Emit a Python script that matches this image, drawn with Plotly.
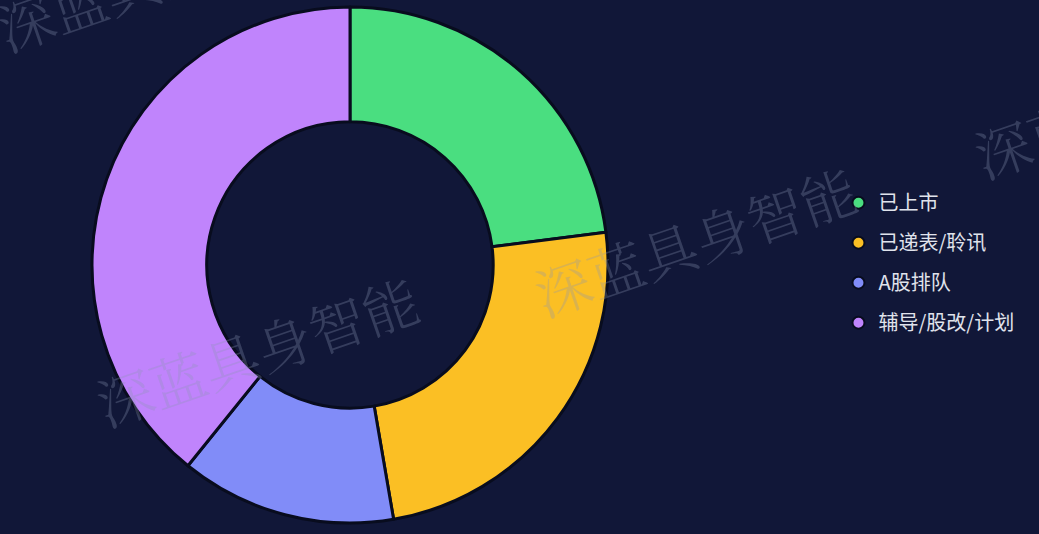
import plotly.graph_objects as go

# Data
labels = ['已上市', '已递表/聆讯', 'A股排队', '辅导/股改/计划']
values = [17, 18, 10, 29]
colors = ['#4ade80', '#fbbf24', '#818cf8', '#c084fc']

bg = '#111738'
watermark = '深蓝具身智能'

fig = go.Figure()

fig.add_trace(go.Pie(
    labels=labels,
    values=values,
    hole=0.555,
    sort=False,
    direction='clockwise',
    rotation=0,
    marker=dict(colors=colors, line=dict(color='#080c1e', width=3)),
    textinfo='none',
    hoverinfo='label+value+percent',
    showlegend=False,
    domain=dict(x=[(350 - 258) / 1039, (350 + 258) / 1039], y=[11 / 534, 527 / 534]),
))

# legend entries with round markers
for i, (lab, col) in enumerate(zip(labels, colors)):
    fig.add_trace(go.Scatter(
        x=[None], y=[None], mode='markers', name=lab, legendgroup=str(i),
        marker=dict(symbol='circle', size=16, color=col, line=dict(color='#080c1e', width=2)),
    ))

# watermarks (centre in pixels -> paper)
wm_pos = [(158, -25), (257, 350), (695, 240), (1135, 102)]
for px_, py_ in wm_pos:
    fig.add_annotation(
        x=px_ / 1039, y=1 - py_ / 534, xref='paper', yref='paper', text=watermark, showarrow=False,
        xanchor='center', yanchor='middle',
        textangle=-19, font=dict(size=56, color='rgba(140,150,180,0.30)', family='Noto Serif CJK SC, Noto Sans CJK SC', weight=300),
    )

fig.update_layout(
    width=1039, height=534,
    paper_bgcolor=bg, plot_bgcolor=bg,
    margin=dict(l=0, r=0, t=0, b=0, autoexpand=False),
    xaxis=dict(visible=False), yaxis=dict(visible=False),
    legend=dict(
        x=0.807, y=0.657, xanchor='left', yanchor='top',
        font=dict(size=20, color='#e0e3ec', family='Noto Sans CJK SC'),
        tracegroupgap=11, traceorder='grouped', itemsizing='constant',
        bgcolor='rgba(0,0,0,0)',
    ),
)

fig.write_html('out.html', config={'displayModeBar': False},
               post_script="document.body.style.margin='0';document.body.style.background='#111738';")
